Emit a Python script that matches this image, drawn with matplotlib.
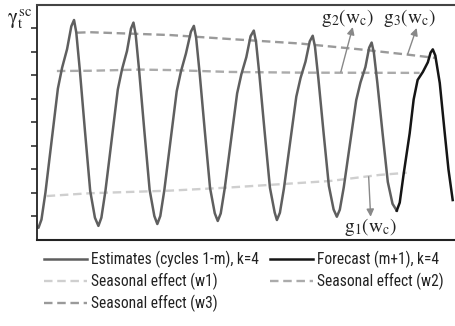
import matplotlib.pyplot as plt
from matplotlib import font_manager
from matplotlib.lines import Line2D

plt.rcParams['mathtext.fontset'] = 'stix'

# hourly seasonal component over one week (cycles 1-m), read off the estimates
est_t = [0.0, 0.6, 1.8, 3.4, 5.0, 6.6, 8.4, 10.1, 12.1, 13.8, 14.9, 15.8, 17.2, 19.3, 21.4, 23.3,
         24.7, 25.9, 27.5, 29.1, 30.7, 32.5, 34.2, 36.2, 37.8, 38.8, 39.7, 41.1, 43.2, 45.3, 47.2,
         48.4, 49.6, 51.2, 52.8, 54.4, 56.2, 57.9, 59.9, 61.9, 63.1, 64.0, 65.4, 67.5, 69.6, 71.5,
         72.7, 73.9, 75.5, 77.1, 78.7, 80.5, 82.2, 84.2, 85.9, 87.2, 88.1, 89.5, 91.6, 93.7, 95.6,
         96.5, 97.7, 99.3, 100.9, 102.5, 104.3, 106.0, 108.0, 109.7, 110.9, 111.8, 113.2, 115.3, 117.4, 119.3,
         120.6, 121.8, 123.4, 125.0, 126.6, 128.4, 130.1, 132.1, 133.6, 134.6, 135.5, 136.9, 139.0, 141.1, 143.0,
         144.7]
est_y = [0.56, 0.52, 0.87, 2.02, 3.44, 4.85, 6.44, 7.33, 8.12, 9.09, 9.36, 8.83, 7.26, 4.63, 2.09, 0.95,
         0.60, 0.95, 2.07, 3.45, 4.84, 6.40, 7.26, 8.04, 8.99, 9.25, 8.74, 7.19, 4.62, 2.14, 1.02,
         0.68, 1.02, 2.11, 3.46, 4.81, 6.33, 7.17, 7.93, 8.86, 9.11, 8.61, 7.12, 4.63, 2.22, 1.14,
         0.81, 1.13, 2.19, 3.48, 4.78, 6.24, 7.05, 7.78, 8.67, 8.91, 8.43, 6.98, 4.56, 2.22, 1.17,
         0.85, 1.16, 2.18, 3.44, 4.69, 6.10, 6.89, 7.59, 8.45, 8.69, 8.23, 6.84, 4.53, 2.30, 1.30,
         0.99, 1.29, 2.25, 3.44, 4.62, 5.95, 6.70, 7.36, 8.18, 8.40, 7.97, 6.68, 4.54, 2.47, 1.54,
         1.25]

# forecast for cycle m+1
fc_t = [144.7, 145.9, 147.5, 149.9, 151.5, 153.1, 155.2, 157.2, 158.3, 159.2, 160.2, 162.0, 164.0, 165.5, 167.2]
fc_y = [1.25, 1.59, 2.83, 4.54, 5.98, 6.81, 7.15, 7.56, 7.97, 8.11, 7.85, 6.68, 4.55, 3.00, 1.70]

# seasonal effects w1, w2, w3
w1_t = [3.9, 21.3, 53.5, 76.8, 117.8, 137.9, 148.7]
w1_y = [1.87, 1.99, 2.10, 2.23, 2.51, 2.77, 2.86]
w2_t = [8.0, 21.3, 41.4, 53.5, 77.6, 105.7, 153.9]
w2_y = [7.19, 7.20, 7.25, 7.23, 7.15, 7.12, 7.11]
w3_t = [16.1, 21.3, 53.5, 77.6, 105.7, 129.0, 148.0, 160.0]
w3_y = [8.82, 8.84, 8.72, 8.55, 8.36, 8.12, 7.90, 7.75]

labels = ['Estimates (cycles 1-m), k=4', 'Forecast (m+1), k=4',
          'Seasonal effect (w1)', 'Seasonal effect (w2)', 'Seasonal effect (w3)']

c_est, c_fc = '#5f5f5f', '#151515'
c_w1, c_w2, c_w3 = '#cfcfcf', '#ababab', '#9a9a9a'
dash = (3.6, 2.0)

# narrow sans for the legend if one is around, else plain Liberation Sans
have = {f.name for f in font_manager.fontManager.ttflist}
narrow = [n for n in ('Liberation Sans Narrow', 'DejaVu Sans Condensed',
                      'Roboto Condensed', 'Open Sans Condensed') if n in have]
condensed = [f for f in font_manager.fontManager.ttflist
             if f.name == 'DejaVu Sans' and f.stretch == 'condensed']
if narrow:
    leg_prop = {'family': narrow[0], 'size': 11.2}
elif condensed:
    leg_prop = {'family': 'DejaVu Sans', 'stretch': 'condensed', 'size': 10}
else:
    leg_prop = {'family': 'Liberation Sans', 'size': 9.5}

fig = plt.figure(figsize=(4.55, 3.26), dpi=100)
ax = fig.add_axes([0.0813, 0.2638, 0.918, 0.721])

ax.plot(w1_t, w1_y, color=c_w1, lw=1.7, dashes=dash)
ax.plot(w2_t, w2_y, color=c_w2, lw=1.7, dashes=dash)
ax.plot(w3_t, w3_y, color=c_w3, lw=1.7, dashes=dash)
ax.plot(est_t, est_y, color=c_est, lw=1.8, solid_joinstyle='round')
ax.plot(fc_t, fc_y, color=c_fc, lw=1.8, solid_joinstyle='round')

ax.set_xlim(0, 168)
ax.set_ylim(0, 10)
ax.set_xticks([])
ax.set_yticks(range(1, 10))
ax.set_yticklabels([])
ax.tick_params(axis='y', direction='out', length=4, width=1.1, color='#222222')
ax.spines['right'].set_visible(False)
ax.spines['left'].set_color('#222222')
ax.spines['left'].set_linewidth(1.3)
ax.spines['top'].set_color('#444444')
ax.spines['top'].set_linewidth(1.5)
ax.spines['bottom'].set_color('#222222')
ax.spines['bottom'].set_linewidth(1.5)

fig.text(0.015, 0.94, r'$\mathrm{\gamma}_\mathrm{t}^{\,\mathrm{sc}}$', fontsize=15,
         va='center', ha='left', color='#222222')

arrow = dict(arrowstyle='-|>', color='#888888', lw=1.0, mutation_scale=11, shrinkA=0, shrinkB=0)
ax.annotate('', xy=(127.0, 9.06), xytext=(122.2, 7.15), arrowprops=arrow)
ax.annotate('', xy=(152.7, 9.02), xytext=(149.1, 7.91), arrowprops=arrow)
ax.annotate('', xy=(134.2, 0.99), xytext=(133.4, 2.69), arrowprops=arrow)

gfont = dict(fontsize=14, ha='center', va='center', color='#222222')
ax.text(125.0, 9.45, r'$\mathrm{g}_2(\mathrm{w}_\mathrm{c})$', **gfont)
ax.text(150.0, 9.45, r'$\mathrm{g}_3(\mathrm{w}_\mathrm{c})$', **gfont)
ax.text(134.0, 0.55, r'$\mathrm{g}_1(\mathrm{w}_\mathrm{c})$', **gfont)

handles = [Line2D([], [], color=c_est, lw=1.8),
           Line2D([], [], color=c_w1, lw=1.7, dashes=dash),
           Line2D([], [], color=c_w3, lw=1.7, dashes=dash),
           Line2D([], [], color=c_fc, lw=1.8),
           Line2D([], [], color=c_w2, lw=1.7, dashes=dash)]
names = [labels[0], labels[2], labels[4], labels[1], labels[3]]
leg = fig.legend(handles, names, ncol=2, loc='upper left', bbox_to_anchor=(0.079, 0.255),
                 frameon=False, borderpad=0, handlelength=2.8, handletextpad=0.25,
                 columnspacing=0.7, labelspacing=0.32, prop=leg_prop)
for txt in leg.get_texts():
    txt.set_color('#222222')

fig.savefig('out.png', dpi=100)
